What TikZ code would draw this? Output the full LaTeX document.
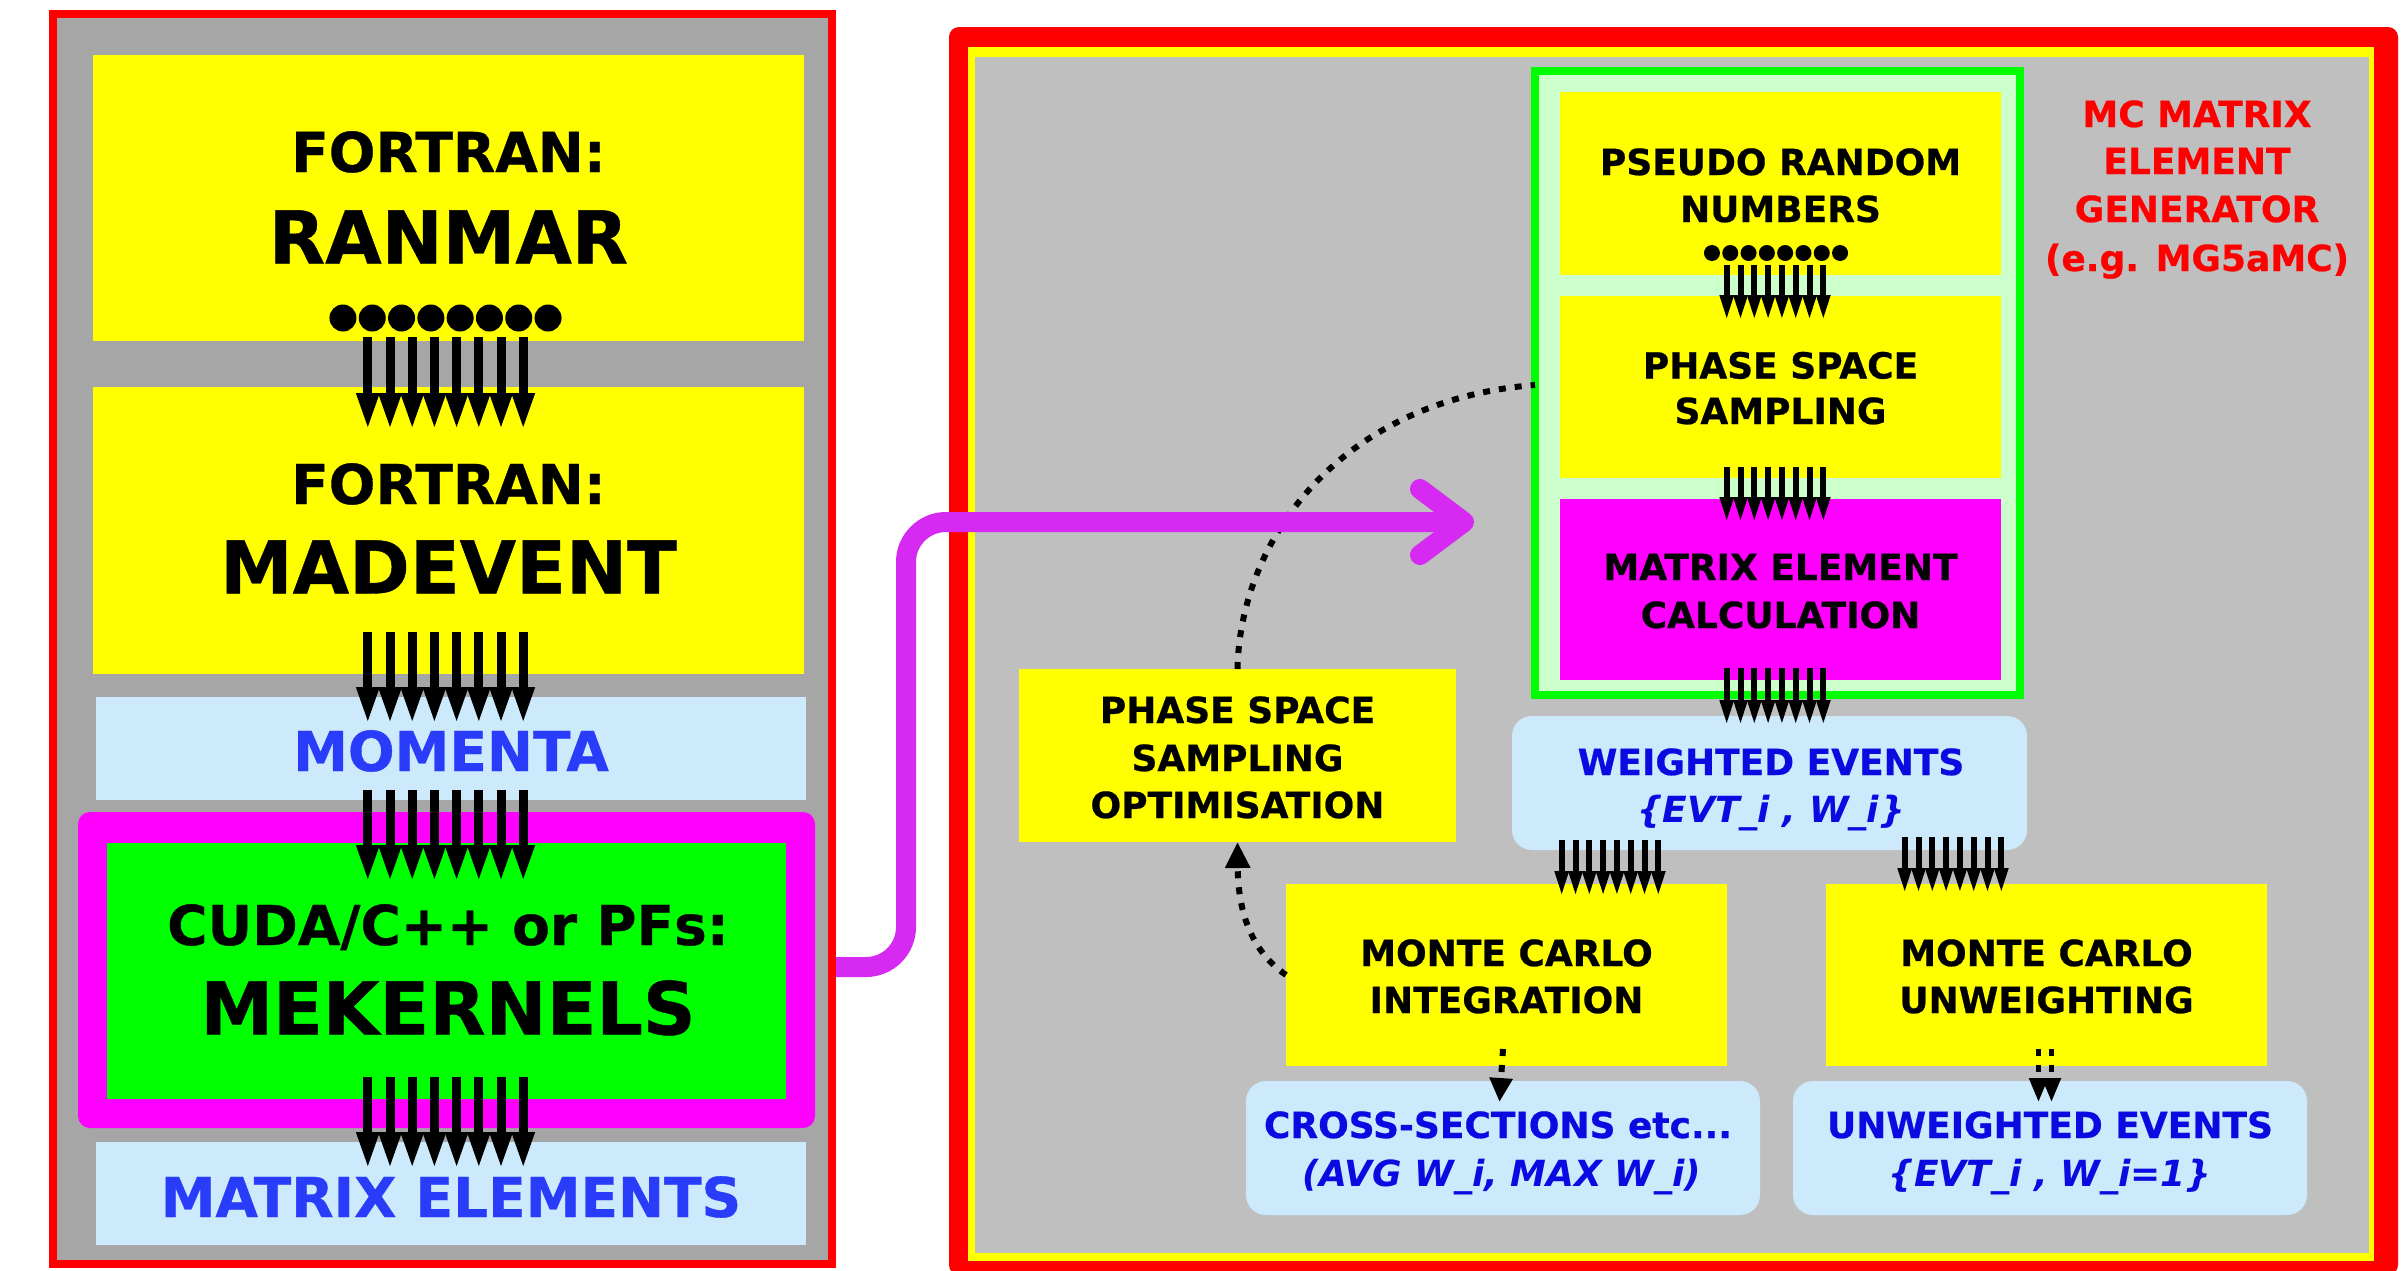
\documentclass[tikz,border=0pt]{standalone}
\usepackage{fontspec}
\setmainfont{DejaVu Sans}[BoldFeatures={FakeBold=0.6}]
\usetikzlibrary{arrows.meta}
\definecolor{lgray}{RGB}{166,166,166}
\definecolor{rgray}{RGB}{191,191,191}
\definecolor{ylw}{RGB}{255,255,0}
\definecolor{lblue}{RGB}{204,234,252}
\definecolor{mag}{RGB}{255,0,255}
\definecolor{grn}{RGB}{0,255,0}
\definecolor{lgrn}{RGB}{204,255,204}
\definecolor{bluL}{RGB}{40,60,250}
\definecolor{bluR}{RGB}{10,10,225}
\definecolor{arrowmag}{RGB}{214,42,242}
\newcommand\lfsmall{\fontsize{55pt}{60pt}\selectfont\bfseries}
\newcommand\lfbig{\fontsize{73pt}{80pt}\selectfont\bfseries}
\newcommand\rfnorm{\fontsize{36pt}{40pt}\selectfont\bfseries}
\newcommand\rfital{\fontsize{36pt}{40pt}\selectfont\bfseries\itshape}
\tikzset{
  box/.style={inner sep=0pt, outer sep=0pt, draw=none},
  lbl/.style={anchor=base, inner sep=0pt, outer sep=0pt},
  dotline/.style={line width=6pt, dash pattern=on 7pt off 9pt},
}
% #1 name, #2 style, #3 x1, #4 y1, #5 x2, #6 y2
\newcommand\mybox[6]{%
  \pgfmathsetmacro\bw{#5-#3}\pgfmathsetmacro\bh{#6-#4}%
  \pgfmathsetmacro\bx{(#3+#5)/2}\pgfmathsetmacro\by{(#4+#6)/2}%
  \node[box,#2,minimum width=\bw pt,minimum height=\bh pt] (#1) at (\bx,\by) {};}
% #1 cx, #2 ytop, #3 ytip, #4 spacing, #5 head length, #6 shaft width
\newcommand\bundle[6]{%
  \foreach \ii in {0,...,7}{%
    \pgfmathsetmacro\xx{#1+(\ii-3.5)*#4}%
    \fill (\xx-#6/2,#2) rectangle (\xx+#6/2,#3-#5+1);%
    \fill (\xx-#4*0.54,#3-#5) -- (\xx+#4*0.54,#3-#5) -- (\xx,#3) -- cycle;%
  }}
% #1 cx, #2 y, #3 spacing, #4 radius
\newcommand\dotrow[4]{%
  \foreach \ii in {0,...,7}{%
    \pgfmathsetmacro\xx{#1+(\ii-3.5)*#3}%
    \fill (\xx,#2) circle (#4pt);%
  }}
\begin{document}
\begin{tikzpicture}[x=1pt,y=-1pt]
\useasboundingbox (0,0) rectangle (2402,1270);
% ---------------- LEFT PANEL ----------------
\mybox{lpanel}{draw=red,line width=8pt,fill=lgray}{53}{14}{832}{1264}
\mybox{ranmar}{fill=ylw}{93}{55}{804}{341}
\mybox{madevent}{fill=ylw}{93}{387}{804}{674}
\mybox{momenta}{fill=lblue}{96}{697}{806}{800}
\mybox{mekframe}{fill=mag,rounded corners=12pt}{78}{812}{815}{1128}
\mybox{mekernels}{fill=grn}{107}{843}{786}{1099}
\mybox{mes}{fill=lblue}{96}{1142}{806}{1245}
\node[lbl,font=\lfsmall] (t1) at (448.5,172) {FORTRAN:};
\node[lbl,font=\lfbig] (t2) at (448.5,263.5) {RANMAR};
\node[lbl,font=\lfsmall] (t3) at (448.5,504) {FORTRAN:};
\node[lbl,font=\lfbig] (t4) at (448.5,593.5) {MADEVENT};
\node[lbl,font=\lfsmall,text=bluL] (t5) at (451,771) {MOMENTA};
\node[lbl,font=\lfsmall] (t6) at (448,945) {CUDA/C++ or PFs:};
\node[lbl,font=\lfbig] (t7) at (448,1034.5) {MEKERNELS};
\node[lbl,font=\lfsmall,text=bluL] (t8) at (451,1217) {MATRIX ELEMENTS};
\dotrow{445.5}{318}{29.3}{13.5}
\bundle{445.5}{337}{427}{22.2}{34}{9}
\bundle{445.5}{632}{721}{22.2}{34}{9}
\bundle{445.5}{790}{879}{22.2}{34}{9}
\bundle{445.5}{1077}{1166}{22.2}{34}{9}
% ---------------- RIGHT PANEL ----------------
\mybox{rpred}{fill=red,rounded corners=10pt}{949}{27}{2398}{1275}
\mybox{rpylw}{fill=ylw}{968}{47}{2374}{1261}
\mybox{rpanel}{fill=rgray}{975}{57}{2369}{1253}
\mybox{gframe}{draw=grn,line width=8pt,fill=lgrn}{1535}{71}{2020}{695}
\mybox{prn}{fill=ylw}{1560}{92}{2001}{275}
\mybox{pss}{fill=ylw}{1560}{296}{2001}{478}
\mybox{mec}{fill=mag}{1560}{499}{2001}{680}
\mybox{we}{fill=lblue,rounded corners=20pt}{1512}{716}{2027}{850}
\mybox{psso}{fill=ylw}{1019}{669}{1456}{842}
\mybox{mci}{fill=ylw}{1286}{884}{1727}{1066}
\mybox{mcu}{fill=ylw}{1826}{884}{2267}{1066}
\mybox{cs}{fill=lblue,rounded corners=20pt}{1246}{1081}{1760}{1215}
\mybox{ue}{fill=lblue,rounded corners=20pt}{1793}{1081}{2307}{1215}
\node[lbl,font=\rfnorm] (r1) at (1780.5,175) {PSEUDO RANDOM};
\node[lbl,font=\rfnorm] (r2) at (1780.5,222) {NUMBERS};
\node[lbl,font=\rfnorm] (r3) at (1780.5,378.5) {PHASE SPACE};
\node[lbl,font=\rfnorm] (r4) at (1780.5,424) {SAMPLING};
\node[lbl,font=\rfnorm] (r5) at (1780.5,580) {MATRIX ELEMENT};
\node[lbl,font=\rfnorm] (r6) at (1780.5,628) {CALCULATION};
\node[lbl,font=\rfnorm,text=red] (g1) at (2197,127) {MC MATRIX};
\node[lbl,font=\rfnorm,text=red] (g2) at (2197,174) {ELEMENT};
\node[lbl,font=\rfnorm,text=red] (g3) at (2197,222) {GENERATOR};
\node[lbl,font=\rfnorm,text=red] (g4) at (2197,271) {(e.g. MG5aMC)};
\node[lbl,font=\rfnorm] (o1) at (1237.5,723) {PHASE SPACE};
\node[lbl,font=\rfnorm] (o2) at (1237.5,771) {SAMPLING};
\node[lbl,font=\rfnorm] (o3) at (1237.5,818) {OPTIMISATION};
\node[lbl,font=\rfnorm,text=bluR] (w1) at (1771,775) {WEIGHTED EVENTS};
\node[lbl,font=\rfital,text=bluR] (w2) at (1771,822) {\{EVT\_i , W\_i\}};
\node[lbl,font=\rfnorm] (i1) at (1506.5,966) {MONTE CARLO};
\node[lbl,font=\rfnorm] (i2) at (1506.5,1013) {INTEGRATION};
\node[lbl,font=\rfnorm] (u1) at (2046.5,966) {MONTE CARLO};
\node[lbl,font=\rfnorm] (u2) at (2046.5,1013) {UNWEIGHTING};
\node[lbl,font=\rfnorm,text=bluR] (c1) at (1498,1138) {CROSS-SECTIONS etc...};
\node[lbl,font=\rfital,text=bluR] (c2) at (1502,1186) {(AVG W\_i, MAX W\_i)};
\node[lbl,font=\rfnorm,text=bluR] (e1) at (2050,1138) {UNWEIGHTED EVENTS};
\node[lbl,font=\rfital,text=bluR] (e2) at (2050,1186) {\{EVT\_i , W\_i=1\}};
\dotrow{1776}{253}{18.3}{8}
\bundle{1775}{265}{318}{13.8}{23}{6}
\bundle{1775}{467}{520}{13.8}{23}{6}
\bundle{1775}{668}{723}{13.8}{23}{6}
\bundle{1610}{840}{894}{13.8}{23}{6}
\bundle{1953}{837}{891}{13.8}{23}{6}
% dotted connectors
\draw[dotline,-{Triangle[width=24pt,length=26pt]}] (mci.west) .. controls (1250,950) and (1238,910) .. (psso.south);
\draw[dotline] (psso.north) .. controls (1240,540) and (1340,400) .. (gframe.west |- 0,385);
\draw[dotline,-{Triangle[width=22pt,length=24pt]}] ([xshift=-3.5pt,yshift=17pt]mci.south) -- ([xshift=-3.5pt,yshift=-21pt]cs.north);
\draw[dotline,line width=5pt,-{Triangle[width=18pt,length=24pt]}] ([xshift=-8pt,yshift=17pt]mcu.south) -- ([xshift=-8pt,yshift=-21pt]mcu.south |- ue.north);
\draw[dotline,line width=5pt,-{Triangle[width=18pt,length=24pt]}] ([xshift=5pt,yshift=17pt]mcu.south) -- ([xshift=5pt,yshift=-21pt]mcu.south |- ue.north);
% magenta connector
\coordinate (magstart) at (836,967);
\coordinate (magtip) at (1464,522);
\draw[arrowmag,line width=20pt,rounded corners=40pt] (magstart) -- (906,967) -- (906,522) -- (magtip);
\draw[arrowmag,line width=20pt,line cap=round,line join=round] (1420,489) -- (magtip) -- (1420,555);
\end{tikzpicture}
\end{document}
